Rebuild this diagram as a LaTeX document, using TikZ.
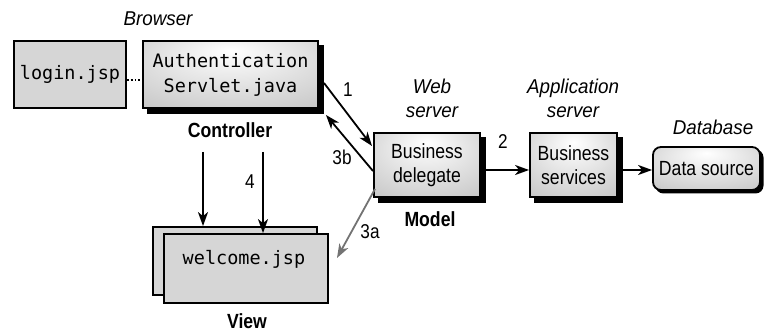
\documentclass[tikz,border=0pt]{standalone}
\usepackage{fontspec}
\setmainfont{Liberation Sans}[FakeStretch=0.86]
\newfontfamily\labfont{Liberation Sans}[FakeStretch=0.94]
\setmonofont{DejaVu Sans Mono}
\usetikzlibrary{arrows.meta}
\pgfdeclareradialshading{boxglow}{\pgfpoint{0bp}{18bp}}{%
  color(0bp)=(white);
  color(22bp)=(black!12);
  color(45bp)=(black!24);
  color(70bp)=(black!30)}
\begin{document}
\begin{tikzpicture}[x=1pt,y=-1pt,
  box/.style={draw=black, line width=1.8pt, inner sep=0pt, align=center},
  flatbox/.style={box, fill=black!16},
  glowbox/.style={box, shading=boxglow},
  shadowbox/.style={fill=black, inner sep=0pt},
  mono/.style={font=\fontsize{18.5}{25}\selectfont\ttfamily},
  sans/.style={font=\fontsize{20.5}{24}\selectfont},
  lab/.style={font=\fontsize{20}{24}\selectfont\labfont\itshape, align=center},
  blab/.style={font=\fontsize{20.5}{24}\selectfont\bfseries},
  num/.style={font=\fontsize{20}{24}\selectfont},
  arr/.style={line width=1.8pt, -{Stealth[length=14pt,width=10pt,inset=4pt]}},
]
\useasboundingbox (0,0) rectangle (766,331);

% drop shadows
\node[shadowbox, minimum width=177pt, minimum height=69pt] (authsh) at (235.5,79.5) {};
\node[shadowbox, minimum width=108pt, minimum height=66pt] (delegsh) at (432,170) {};
\node[shadowbox, minimum width=89pt, minimum height=66pt] (servsh) at (578.5,170) {};
\node[shadowbox, rounded corners=8pt, minimum width=108pt, minimum height=44pt] (dssh) at (709.5,171.5) {};

% boxes
\node[flatbox, minimum width=112pt, minimum height=67pt, mono] (login) at (70,74.5) {login.jsp};
\node[glowbox, minimum width=175pt, minimum height=67pt, mono] (auth) at (230.5,74.5) {Authentication\\Servlet.java};
\node[glowbox, minimum width=106pt, minimum height=64pt, sans] (deleg) at (427,165) {Business\\delegate};
\node[glowbox, minimum width=87pt, minimum height=64pt, sans] (serv) at (573.5,165) {Business\\services};
\node[glowbox, rounded corners=8pt, minimum width=107pt, minimum height=43pt, sans] (ds) at (706.5,168.5) {Data source};
\node[flatbox, minimum width=164pt, minimum height=68pt] (wback) at (235,261) {};
\node[flatbox, minimum width=164pt, minimum height=69pt] (wfront) at (246,268.5) {};
\node[mono] (wtext) at (244,259) {welcome.jsp};

% labels
\node[lab] (browser) at (158,19) {Browser};
\node[blab] (ctrl) at (230,130) {Controller};
\node[blab, anchor=base] (view) at (247,328) {View};
\node[blab] (model) at (430,219) {Model};
\node[lab] (web) at (432,98) {Web\\server};
\node[lab] (app) at (573,98) {Application\\server};
\node[lab] (db) at (713,127) {Database};

% connectors
\draw[line width=1.8pt, dotted] ([yshift=-5.5pt]login.east) -- ([yshift=-5.5pt]auth.west);

\coordinate (d1) at (203,152);
\coordinate (d2) at (263,152);
\draw[arr] (d1) -- (d1 |- wback.north);
\draw[arr] (d2) -- (d2 |- wfront.north);
\node[num] (n4) at (250,182) {4};

\coordinate (a1s) at (324,83);
\coordinate (a1e) at (372,146);
\draw[arr] (a1s) -- (a1e);
\node[num] (n1) at (348,90) {1};

\coordinate (a3bs) at (373,171);
\coordinate (a3be) at (326,115);
\draw[arr] (a3bs) -- (a3be);
\node[num] (n3b) at (342,157) {3b};

\coordinate (a3as) at (375,189);
\coordinate (a3ae) at (337,258);
\draw[arr, draw=black!55] (a3as) -- (a3ae);
\node[num] (n3a) at (370,232) {3a};

\draw[arr] ([yshift=-5pt]delegsh.east |- serv.west) -- ([yshift=-5pt]serv.west);
\node[num] (n2) at (503,142) {2};
\draw[arr] ([yshift=-1.5pt]servsh.east |- ds.west) -- ([yshift=-1.5pt]ds.west);
\end{tikzpicture}
\end{document}
